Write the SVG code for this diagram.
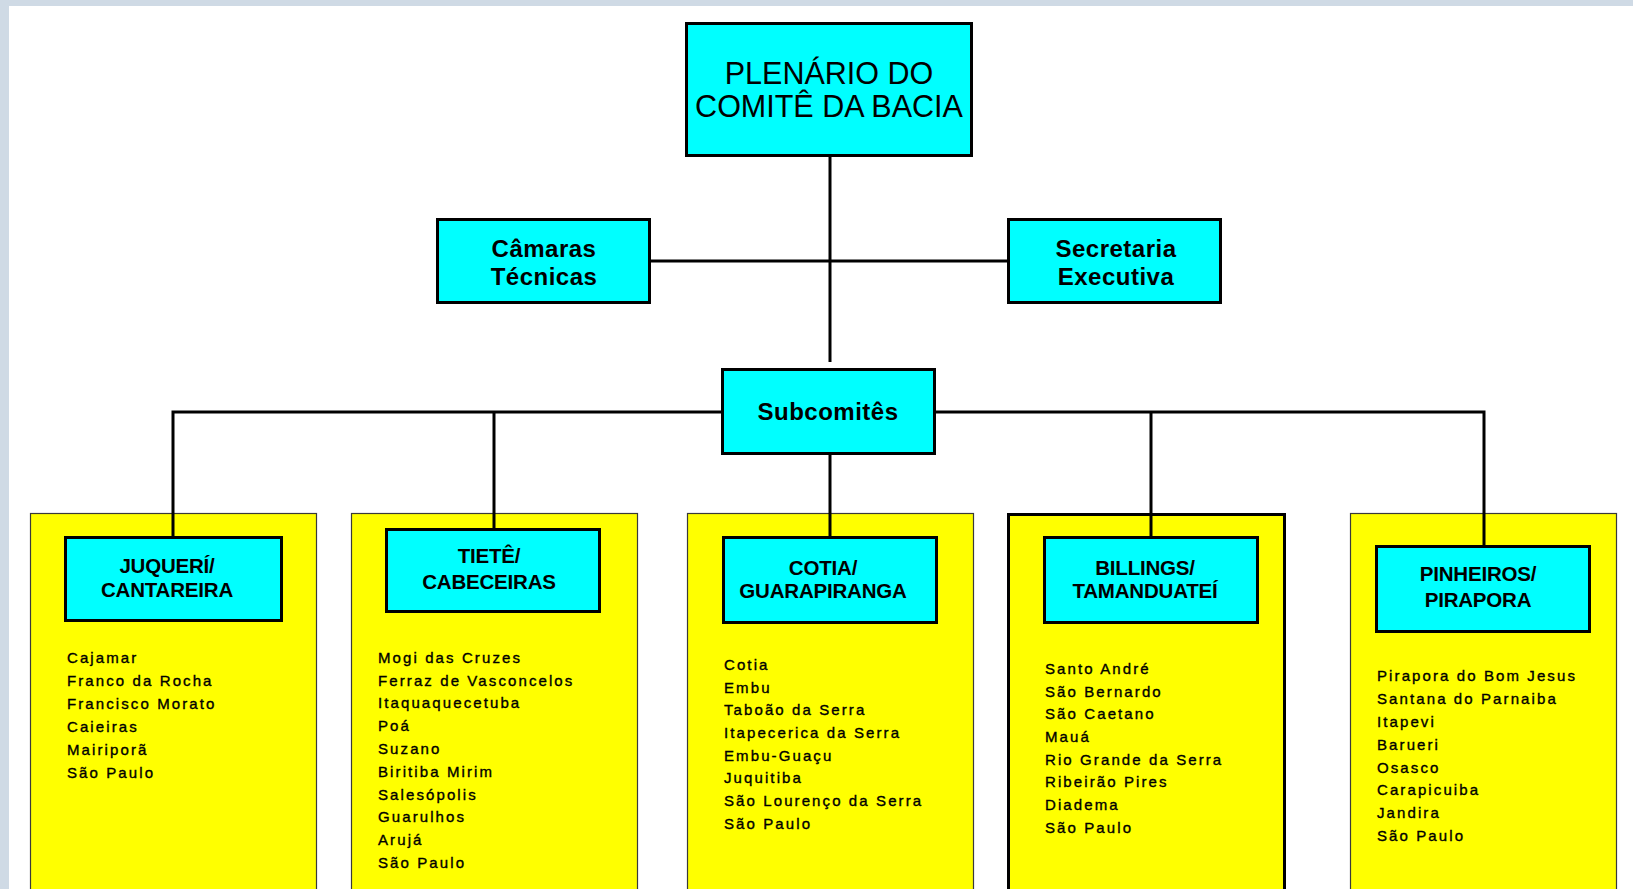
<svg xmlns="http://www.w3.org/2000/svg" width="1633" height="889" viewBox="0 0 1633 889">
  <style>
    .frame { fill: #cfdae5; }
    .box { fill: #00ffff; stroke: #000; stroke-width: 3; }
    .panel { fill: #ffff00; stroke: #3a3a3a; stroke-width: 1.2; }
    .panel-strong { fill: #ffff00; stroke: #000; stroke-width: 3; }
    .wire { fill: none; stroke: #000; stroke-width: 3; }
    .title { font-family: "Liberation Sans", Arial, sans-serif; font-size: 30.5px; fill: #000; text-anchor: middle; }
    .label { font-family: "Liberation Sans", Arial, sans-serif; font-size: 24px; font-weight: bold; letter-spacing: 0.5px; fill: #000; text-anchor: middle; }
    .head { font-family: "Liberation Sans", Arial, sans-serif; font-size: 20.5px; font-weight: bold; letter-spacing: -0.2px; fill: #000; text-anchor: middle; }
    .city { font-family: "Liberation Sans", Arial, sans-serif; font-size: 15px; letter-spacing: 2.1px; fill: #000; stroke: #000; stroke-width: 0.35; }
  </style>

  <!-- page background with light frame on top and left -->
  <rect x="0" y="0" width="1633" height="889" fill="#ffffff"/>
  <rect class="frame" x="0" y="0" width="1633" height="6"/>
  <rect class="frame" x="0" y="0" width="9" height="889"/>

  <!-- yellow panels holding each sub-committee and its municipalities -->
  <g id="panels">
    <rect class="panel" x="30.5" y="513.5" width="286" height="400"/>
    <rect class="panel" x="351.5" y="513.5" width="286" height="400"/>
    <rect class="panel" x="687.5" y="513.5" width="286" height="400"/>
    <rect class="panel-strong" x="1008.5" y="514.5" width="276" height="400"/>
    <rect class="panel" x="1350.5" y="513.5" width="266" height="400"/>
  </g>

  <!-- connectors -->
  <g id="connectors">
    <path class="wire" d="M830 157 V362"/>
    <path class="wire" d="M651 261 H1008"/>
    <path class="wire" d="M173 537 V412 H1484 V546"/>
    <path class="wire" d="M494 412 V529"/>
    <path class="wire" d="M830 455 V537"/>
    <path class="wire" d="M1151 412 V537"/>
  </g>

  <g id="plenario">
    <rect class="box" x="686.5" y="23.5" width="285" height="132"/>
    <text class="title" x="829" y="84">PLENÁRIO DO</text>
    <text class="title" x="829" y="117">COMITÊ DA BACIA</text>
  </g>

  <g id="camaras">
    <rect class="box" x="437.5" y="219.5" width="212" height="83"/>
    <text class="label" x="544" y="257">Câmaras</text>
    <text class="label" x="544" y="285">Técnicas</text>
  </g>

  <g id="secretaria">
    <rect class="box" x="1008.5" y="219.5" width="212" height="83"/>
    <text class="label" x="1116" y="257">Secretaria</text>
    <text class="label" x="1116" y="285">Executiva</text>
  </g>

  <g id="subcomites">
    <rect class="box" x="722.5" y="369.5" width="212" height="84"/>
    <text class="label" x="828" y="420">Subcomitês</text>
  </g>

  <g id="juqueri">
    <rect class="box" x="65.5" y="537.5" width="216" height="83"/>
    <text class="head" x="167" y="573">JUQUERÍ/</text>
    <text class="head" x="167" y="597">CANTAREIRA</text>
    <text class="city" x="67" y="663">Cajamar</text>
    <text class="city" x="67" y="686">Franco da Rocha</text>
    <text class="city" x="67" y="709">Francisco Morato</text>
    <text class="city" x="67" y="732">Caieiras</text>
    <text class="city" x="67" y="755">Mairiporã</text>
    <text class="city" x="67" y="778">São Paulo</text>
  </g>

  <g id="tiete">
    <rect class="box" x="386.5" y="529.5" width="213" height="82"/>
    <text class="head" x="489" y="563">TIETÊ/</text>
    <text class="head" x="489" y="589">CABECEIRAS</text>
    <text class="city" x="378" y="663">Mogi das Cruzes</text>
    <text class="city" x="378" y="686">Ferraz de Vasconcelos</text>
    <text class="city" x="378" y="708">Itaquaquecetuba</text>
    <text class="city" x="378" y="731">Poá</text>
    <text class="city" x="378" y="754">Suzano</text>
    <text class="city" x="378" y="777">Biritiba Mirim</text>
    <text class="city" x="378" y="800">Salesópolis</text>
    <text class="city" x="378" y="822">Guarulhos</text>
    <text class="city" x="378" y="845">Arujá</text>
    <text class="city" x="378" y="868">São Paulo</text>
  </g>

  <g id="cotia">
    <rect class="box" x="723.5" y="537.5" width="213" height="85"/>
    <text class="head" x="823" y="575">COTIA/</text>
    <text class="head" x="823" y="598">GUARAPIRANGA</text>
    <text class="city" x="724" y="670">Cotia</text>
    <text class="city" x="724" y="693">Embu</text>
    <text class="city" x="724" y="715">Taboão da Serra</text>
    <text class="city" x="724" y="738">Itapecerica da Serra</text>
    <text class="city" x="724" y="761">Embu-Guaçu</text>
    <text class="city" x="724" y="783">Juquitiba</text>
    <text class="city" x="724" y="806">São Lourenço da Serra</text>
    <text class="city" x="724" y="829">São Paulo</text>
  </g>

  <g id="billings">
    <rect class="box" x="1044.5" y="537.5" width="213" height="85"/>
    <text class="head" x="1145" y="575">BILLINGS/</text>
    <text class="head" x="1145" y="598">TAMANDUATEÍ</text>
    <text class="city" x="1045" y="674">Santo André</text>
    <text class="city" x="1045" y="697">São Bernardo</text>
    <text class="city" x="1045" y="719">São Caetano</text>
    <text class="city" x="1045" y="742">Mauá</text>
    <text class="city" x="1045" y="765">Rio Grande da Serra</text>
    <text class="city" x="1045" y="787">Ribeirão Pires</text>
    <text class="city" x="1045" y="810">Diadema</text>
    <text class="city" x="1045" y="833">São Paulo</text>
  </g>

  <g id="pinheiros">
    <rect class="box" x="1376.5" y="546.5" width="213" height="85"/>
    <text class="head" x="1478" y="581">PINHEIROS/</text>
    <text class="head" x="1478" y="607">PIRAPORA</text>
    <text class="city" x="1377" y="681">Pirapora do Bom Jesus</text>
    <text class="city" x="1377" y="704">Santana do Parnaiba</text>
    <text class="city" x="1377" y="727">Itapevi</text>
    <text class="city" x="1377" y="750">Barueri</text>
    <text class="city" x="1377" y="773">Osasco</text>
    <text class="city" x="1377" y="795">Carapicuiba</text>
    <text class="city" x="1377" y="818">Jandira</text>
    <text class="city" x="1377" y="841">São Paulo</text>
  </g>
</svg>
